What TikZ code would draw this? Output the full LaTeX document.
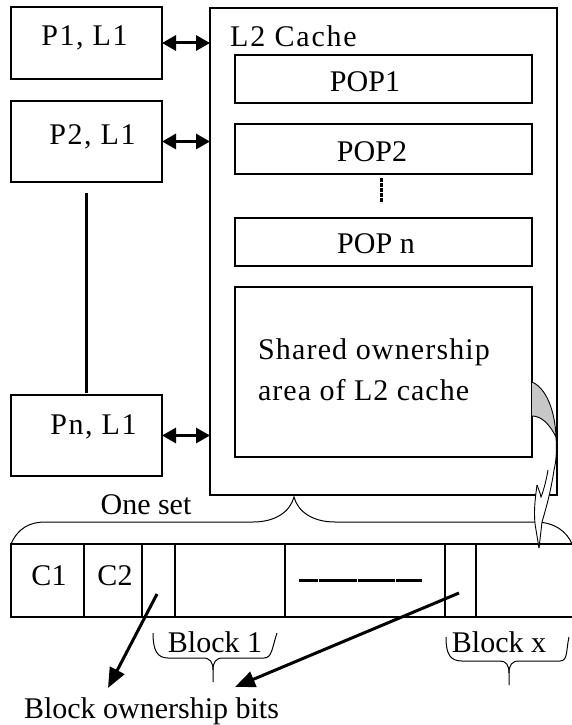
\documentclass[tikz,border=0pt]{standalone}
\usepackage{fontspec}
\setmainfont{Liberation Serif}
\usetikzlibrary{arrows.meta}
\begin{document}
\begin{tikzpicture}[x=1pt,y=-1pt,
  box/.style={draw, line width=1.1pt, inner sep=0pt, outer sep=0pt},
  cell/.style={draw, line width=1.1pt, inner sep=0pt, outer sep=0pt, minimum height=73pt},
  lbl/.style={font=\fontsize{30}{36}\selectfont, inner sep=0pt, anchor=base},
  lblw/.style={lbl, anchor=base west},
  wide/.style={font=\fontsize{30}{36}\selectfont\addfontfeature{LetterSpace=#1}},
  link/.style={line width=3pt, {Triangle[length=14pt,width=15pt]}-{Triangle[length=14pt,width=15pt]}},
  ptr/.style={line width=3pt, -{Triangle[length=20pt,width=16pt]}},
  brace/.style={line width=1pt},
]
\useasboundingbox (0,0) rectangle (572,725);
\clip (0,0) rectangle (572,725);

% processors with private L1
\node[box, minimum width=151pt, minimum height=72pt] (p1) at (86.5,43) {};
\node[box, minimum width=151pt, minimum height=81pt] (p2) at (86.5,141.5) {};
\node[box, minimum width=151pt, minimum height=81pt] (pn) at (86.5,435.5) {};
\node[lbl, wide=5] (p1t) at (84.5,46) {P1, L1};
\node[lbl, wide=5] (p2t) at (92.5,144) {P2, L1};
\node[lbl, wide=5] (pnt) at (93.5,434) {Pn, L1};
\draw[line width=2.5pt] ([yshift=-11pt]p2.south) -- ([yshift=2pt]pn.north);

% shared L2 cache and its partitions
\node[box, minimum width=347pt, minimum height=487pt] (l2) at (383.5,251.5) {};
\node[lblw, wide=6] (l2t) at (230,47) {L2 Cache};
\node[box, minimum width=297pt, minimum height=48pt] (pop1) at (383.5,79) {};
\node[box, minimum width=297pt, minimum height=50pt] (pop2) at (383.5,149) {};
\node[box, minimum width=297pt, minimum height=48pt] (popn) at (383.5,242) {};
\node[box, minimum width=297pt, minimum height=170pt] (shr) at (383.5,372) {};
\node[lbl] (pop1t) at (365,91) {POP1};
\node[lbl] (pop2t) at (372,161) {POP2};
\node[lbl] (popnt) at (376,253) {POP n};
\node[lblw, wide=3.8] (shrt1) at (258,359) {Shared ownership};
\node[lblw, wide=3.3] (shrt2) at (258,400) {area of L2 cache};
\draw[line width=3pt, dash pattern=on 4pt off 1pt] (381,178) -- (381,203);

% processor to L2 links
\draw[link] (p1.east) -- (l2.west |- p1.east);
\draw[link] (p2.east) -- (l2.west |- p2.east);
\draw[link] (pn.east) -- (l2.west |- pn.east);

% one cache set
\node[cell, minimum width=73pt] (c1) at (47.5,580.5) {};
\node[cell, minimum width=58pt] (c2) at (113,580.5) {};
\node[cell, minimum width=33pt] (k1) at (158.5,580.5) {};
\node[cell, minimum width=110pt] (d1) at (230,580.5) {};
\node[cell, minimum width=160pt] (mid) at (365,580.5) {};
\node[cell, minimum width=31pt] (kx) at (460.5,580.5) {};
\node[cell, minimum width=124pt] (dx) at (538,580.5) {};
\node[lbl] (c1t) at (49,585) {C1};
\node[lbl] (c2t) at (115,585) {C2};
\draw[line width=3pt, dash pattern=on 19pt off 1pt on 38pt off 1pt on 37pt off 1pt on 30pt]
  ([xshift=-66pt]mid.center) -- ([xshift=57pt]mid.center);

% brace over the set
\draw[brace] (11,544) .. controls (18,528) and (30,522) .. (45,522) -- (253,522)
  .. controls (275,522) and (290,512) .. (294,497)
  .. controls (298,512) and (313,522) .. (335,522) -- (535,522)
  .. controls (555,522) and (567,532) .. (572,544);
\node[lbl] (sett) at (146,514) {One set};

% braces under the blocks
\draw[brace] (153,633) .. controls (153,650) and (157,658) .. (168,658) -- (203,658)
  .. controls (210,658) and (213,662) .. (213,670) -- (213,682);
\draw[brace] (213,670) .. controls (213,662) and (216,658) .. (223,658) -- (264,658)
  .. controls (272,658) and (272,648) .. (277,633);
\draw[brace] (446,637) .. controls (446,654) and (450,661) .. (462,661) -- (500,661)
  .. controls (506,661) and (509,665) .. (509,673) -- (509,685);
\draw[brace] (509,673) .. controls (509,665) and (512,661) .. (519,661) -- (560,661)
  .. controls (568,661) and (566,650) .. (569,637);
\node[lbl] (b1t) at (215,652) {Block 1};
\node[lbl] (bxt) at (499,652) {Block x};

% ownership bit pointers
\node[lbl] (bits) at (151.5,718) {Block ownership bits};
\coordinate (t1) at (108,688);
\coordinate (t2) at (235,687);
\draw[ptr] ([xshift=-1.5pt,yshift=-13.5pt]k1.center) -- (t1);
\draw[ptr] ([xshift=-1.5pt,yshift=-12.5pt]kx.center) -- (t2);

% curved pointer from the shared area down to the set
\fill[white] (537,485) .. controls (535,500) and (533,515) .. (536,530) -- (539,548)
  -- (542,522) .. controls (547,505) and (551,490) .. (554,470) -- cycle;
\draw[line width=0.9pt, fill=black!22] (532,382) .. controls (546,388) and (555,410) .. (556,437)
  .. controls (550,425) and (542,416) .. (532,416);
\draw[line width=0.9pt] (556,437) .. controls (557,452) and (556,462) .. (554,470)
  .. controls (551,490) and (547,505) .. (542,522) -- (539,548);
\draw[line width=0.9pt] (537,485) .. controls (535,500) and (533,515) .. (536,530) -- (539,548);
\draw[line width=0.9pt] (548,470) .. controls (546,482) and (543,492) .. (541,497)
  .. controls (540,492) and (538,488) .. (537,485);
\end{tikzpicture}
\end{document}
